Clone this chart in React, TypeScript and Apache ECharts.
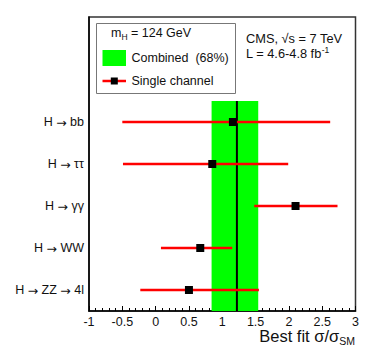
import React, { useEffect, useRef } from 'react';
import * as echarts from 'echarts';

// Channels from bottom to top
const channels = ['H → ZZ → 4l', 'H → WW', 'H → γγ', 'H → ττ', 'H → bb'];
const bestFit = [0.5, 0.67, 2.1, 0.85, 1.16];
const errLow = [-0.23, 0.08, 1.48, -0.49, -0.5];
const errHigh = [1.55, 1.15, 2.73, 1.99, 2.62];

const combinedFit = [1.22];
const combinedLow = [0.84];
const combinedHigh = [1.54];

const xRange = [-1, 3];
const yRange = [0, 7];

const FONT = 'Liberation Sans, Arial, Helvetica, sans-serif';

function richLabel(name: string) {
  // render arrows in a font with a wider arrow glyph
  return name
    .split('→')
    .map((part) => `{a|${part}}`)
    .join('{r|→}');
}

export default function App() {
  const ref = useRef<HTMLDivElement>(null);

  useEffect(() => {
    if (!ref.current) return;
    const chart = echarts.init(ref.current, undefined, { renderer: 'svg' });

    const barData = channels.map((_, i) => [i + 0.5, errLow[i], errHigh[i], bestFit[i]]);
    const bandData = [[combinedLow[0], combinedHigh[0], combinedFit[0], 0, channels.length]];

    const option: any = {
      animation: false,
      backgroundColor: '#fff',
      textStyle: { fontFamily: FONT },
      grid: {
        left: 89,
        right: 18.5,
        top: 17,
        bottom: 48,
        show: true,
        borderColor: '#333',
        borderWidth: 1.5,
        backgroundColor: 'transparent',
      },
      xAxis: {
        type: 'value',
        min: xRange[0],
        max: xRange[1],
        interval: 0.5,
        axisLine: { show: true, onZero: false, lineStyle: { color: '#000', width: 1.5 } },
        axisTick: { show: true, inside: true, length: 5, lineStyle: { color: '#000', width: 1 } },
        minorTick: { show: true, splitNumber: 5, length: 3, lineStyle: { color: '#000', width: 1 } },
        splitLine: { show: false },
        minorSplitLine: { show: false },
        axisLabel: { fontSize: 12.5, color: '#111', margin: 4, fontFamily: FONT },
      },
      yAxis: {
        type: 'value',
        min: yRange[0],
        max: yRange[1],
        interval: 0.5,
        axisLine: { show: true, onZero: false, lineStyle: { color: '#000', width: 1.5 } },
        axisTick: { show: false },
        splitLine: { show: false },
        axisLabel: {
          fontSize: 12.5,
          color: '#111',
          margin: 5,
          fontFamily: FONT,
          rich: {
            a: { fontSize: 12.5, fontFamily: FONT, color: '#111' },
            r: { fontSize: 12.5, fontFamily: 'DejaVu Sans', color: '#111' },
          },
          formatter: (v: number) => {
            const i = v - 0.5;
            if (Number.isInteger(i) && i >= 0 && i < channels.length) return richLabel(channels[i]);
            return '';
          },
        },
      },
      series: [
        {
          type: 'custom',
          data: bandData,
          encode: { x: [0, 1, 2], y: [3, 4] },
          z: 1,
          renderItem: (params: any, api: any) => {
            const lo = api.value(0);
            const hi = api.value(1);
            const c = api.value(2);
            const y0 = api.value(3);
            const y1 = api.value(4);
            const pA = api.coord([lo, y1]);
            const pB = api.coord([hi, y0]);
            const l0 = api.coord([c, y0]);
            const l1 = api.coord([c, y1]);
            return {
              type: 'group',
              children: [
                {
                  type: 'rect',
                  shape: { x: pA[0], y: pA[1], width: pB[0] - pA[0], height: pB[1] - pA[1] },
                  style: { fill: '#00ff00' },
                },
                {
                  type: 'line',
                  shape: { x1: l0[0], y1: l0[1], x2: l1[0], y2: l1[1] },
                  style: { stroke: '#000', lineWidth: 2 },
                },
              ],
            };
          },
        },
        {
          type: 'custom',
          data: barData,
          encode: { x: [1, 2, 3], y: 0 },
          z: 2,
          renderItem: (params: any, api: any) => {
            const y = api.value(0);
            const lo = api.value(1);
            const hi = api.value(2);
            const c = api.value(3);
            const p1 = api.coord([lo, y]);
            const p2 = api.coord([hi, y]);
            const pc = api.coord([c, y]);
            return {
              type: 'group',
              children: [
                {
                  type: 'line',
                  shape: { x1: p1[0], y1: p1[1], x2: p2[0], y2: p2[1] },
                  style: { stroke: '#ff0000', lineWidth: 2.5 },
                },
                {
                  type: 'rect',
                  shape: { x: pc[0] - 4, y: pc[1] - 4, width: 8, height: 8 },
                  style: { fill: '#000' },
                },
              ],
            };
          },
        },
      ],
      graphic: [
        {
          type: 'rect',
          shape: { x: 96.5, y: 23.5, width: 139, height: 70 },
          style: { fill: '#fff', stroke: '#777', lineWidth: 1 },
          z: 10,
        },
        {
          type: 'text',
          x: 111,
          y: 33,
          z: 11,
          style: {
            text: '{a|m}{b|H}{a| = 124 GeV}',
            verticalAlign: 'middle',
            rich: {
              a: { fontSize: 12.5, fontFamily: FONT, fill: '#111', lineHeight: 16, verticalAlign: 'middle' },
              b: { fontSize: 8.5, fontFamily: FONT, fill: '#111', lineHeight: 8, verticalAlign: 'bottom' },
            },
          },
        },
        {
          type: 'rect',
          shape: { x: 102.5, y: 50, width: 23.5, height: 16 },
          style: { fill: '#00ff00' },
          z: 11,
        },
        {
          type: 'text',
          x: 131.5,
          y: 57.5,
          z: 11,
          style: {
            text: 'Combined\u00a0\u00a0(68%)',
            fontSize: 12.5,
            fontFamily: FONT,
            fill: '#111',
            verticalAlign: 'middle',
          },
        },
        {
          type: 'line',
          shape: { x1: 102.5, y1: 81, x2: 126, y2: 81 },
          style: { stroke: '#ff0000', lineWidth: 2.5 },
          z: 11,
        },
        {
          type: 'rect',
          shape: { x: 110.8, y: 77.5, width: 7, height: 7 },
          style: { fill: '#000' },
          z: 12,
        },
        {
          type: 'text',
          x: 131.5,
          y: 80.5,
          z: 11,
          style: {
            text: 'Single channel',
            fontSize: 12.5,
            fontFamily: FONT,
            fill: '#111',
            verticalAlign: 'middle',
          },
        },
        {
          type: 'text',
          x: 246,
          y: 38,
          z: 11,
          style: {
            text: 'CMS, √s = 7 TeV',
            fontSize: 12.8,
            fontFamily: FONT,
            fill: '#111',
            verticalAlign: 'middle',
          },
        },
        {
          type: 'text',
          x: 246,
          y: 53,
          z: 11,
          style: {
            text: '{a|L = 4.6-4.8 fb}{b|-1}',
            verticalAlign: 'middle',
            rich: {
              a: { fontSize: 12.8, fontFamily: FONT, fill: '#111', lineHeight: 16, verticalAlign: 'middle' },
              b: { fontSize: 8.5, fontFamily: FONT, fill: '#111', lineHeight: 8, verticalAlign: 'top' },
            },
          },
        },
        {
          type: 'text',
          x: 355,
          y: 336,
          z: 11,
          style: {
            text: '{a|Best fit σ/σ}{b|SM}',
            align: 'right',
            verticalAlign: 'middle',
            rich: {
              a: { fontSize: 16.5, fontFamily: FONT, fill: '#111', lineHeight: 20, verticalAlign: 'middle' },
              b: { fontSize: 10.5, fontFamily: FONT, fill: '#111', lineHeight: 9, verticalAlign: 'bottom' },
            },
          },
        },
      ],
    };

    chart.setOption(option);
    return () => chart.dispose();
  }, []);

  return (
    <div
      ref={ref}
      style={{ position: 'absolute', left: 0, top: 0, width: 374, height: 359, background: '#fff' }}
    />
  );
}
